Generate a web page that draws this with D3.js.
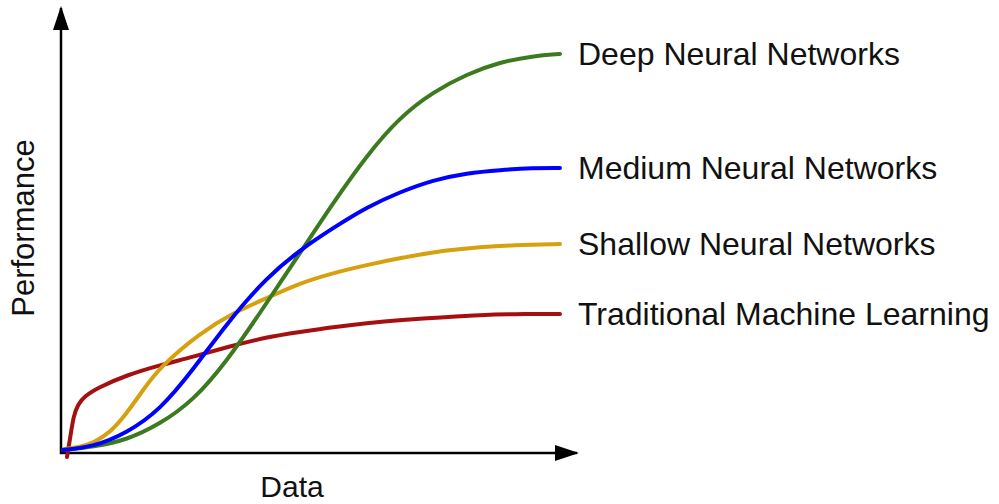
<!DOCTYPE html>
<html>
<head>
<meta charset="utf-8">
<script src="https://cdn.jsdelivr.net/npm/d3@7"></script>
<style>
  html, body { margin: 0; padding: 0; background: #fff; }
  text { font-family: "Liberation Sans", Arial, sans-serif; fill: #111; }
</style>
</head>
<body>
<svg id="chart" width="999" height="504"></svg>
<script>
// ---- data (x: amount of data 0-100, y: performance 0-100) ----
const seriesNames = ["Deep Neural Networks", "Medium Neural Networks", "Shallow Neural Networks", "Traditional Machine Learning"];
const seriesColors = ["#3b7a1e", "#0000ff", "#d6a00e", "#a50f0f"];

const deepX = [0.2, 6.2, 13, 19.6, 26.2, 33, 39.6, 47.6, 54.2, 61, 67.6, 74.2, 81, 87.6, 94.2, 99.6];
const deepY = [0.5, 1.25, 3, 7, 12.75, 22.75, 34.75, 49.75, 62.25, 74.25, 83.75, 90, 94.5, 97.5, 99, 99.5];

const mediumX = [0.2, 6.2, 13, 19.6, 26.2, 33, 41, 47.6, 54.2, 61, 67.6, 74.2, 81, 87.6, 94.2, 99.6];
const mediumY = [0.5, 1.25, 4.75, 10.5, 20.5, 32.25, 43.75, 50.5, 56, 61.25, 65, 68, 69.75, 70.5, 71, 71];

const shallowX = [0.4, 3.6, 6.2, 9.6, 13, 16.2, 19.6, 27.6, 34.2, 41, 47.6, 54.2, 61, 67.6, 77, 83.6, 90.2, 99.6];
const shallowY = [0.75, 1.25, 2.25, 4.75, 9.75, 15.5, 21.25, 29.75, 34.75, 38.5, 42.25, 44.75, 46.75, 48.5, 50.5, 51.25, 51.75, 52];

const tradX = [1, 1.7, 2.3, 3.2, 4.6, 7, 13, 19.6, 26.2, 33, 41, 47.6, 54.2, 61, 67.6, 77, 83.6, 90.2, 99.6];
const tradY = [-1.25, 4, 9, 12, 14, 16, 19.25, 21.75, 23.75, 26.25, 28.75, 30, 31.25, 32.25, 33, 33.75, 34.25, 34.5, 34.5];

const axisLabelX = "Data";
const axisLabelY = "Performance";

// ---- build ----
const series = [
  { name: seriesNames[0], color: seriesColors[0], xs: deepX, ys: deepY },
  { name: seriesNames[1], color: seriesColors[1], xs: mediumX, ys: mediumY },
  { name: seriesNames[2], color: seriesColors[2], xs: shallowX, ys: shallowY },
  { name: seriesNames[3], color: seriesColors[3], xs: tradX, ys: tradY }
].map(s => ({ ...s, pts: s.xs.map((x, i) => [x, s.ys[i]]) }));

const svg = d3.select("#chart");
const x = d3.scaleLinear().domain([0, 100]).range([62, 562]);
const y = d3.scaleLinear().domain([0, 100]).range([452, 52]);

const defs = svg.append("defs");
defs.append("marker")
  .attr("id", "arrow")
  .attr("viewBox", "0 0 24 16")
  .attr("refX", 22).attr("refY", 8)
  .attr("markerUnits", "userSpaceOnUse")
  .attr("markerWidth", 24).attr("markerHeight", 16)
  .attr("orient", "auto")
  .append("path")
  .attr("d", "M0,0 L24,8 L0,16 Z")
  .attr("fill", "#000");

const ox = x(0) - 1, oy = y(0) + 1;

// y axis
svg.append("line")
  .attr("x1", ox).attr("y1", oy + 1)
  .attr("x2", ox).attr("y2", y(111))
  .attr("stroke", "#000").attr("stroke-width", 2.5)
  .attr("marker-end", "url(#arrow)");
// x axis
svg.append("line")
  .attr("x1", ox - 1).attr("y1", oy)
  .attr("x2", x(103)).attr("y2", oy)
  .attr("stroke", "#000").attr("stroke-width", 2.5)
  .attr("marker-end", "url(#arrow)");

const line = d3.line()
  .x(d => x(d[0])).y(d => y(d[1]))
  .curve(d3.curveBasis);

// draw order: red, yellow, green, blue
const order = [3, 2, 0, 1];
order.forEach(i => {
  const s = series[i];
  svg.append("path")
    .attr("d", line(s.pts))
    .attr("fill", "none")
    .attr("stroke", s.color)
    .attr("stroke-width", 4)
    .attr("stroke-linecap", "round")
    .attr("stroke-linejoin", "round");
});

// labels at the end of each curve
series.forEach(s => {
  const last = s.pts[s.pts.length - 1];
  svg.append("text")
    .attr("x", 578)
    .attr("y", y(last[1]))
    .attr("dy", "0.34em")
    .attr("font-size", 32)
    .text(s.name);
});

// axis titles
svg.append("text")
  .attr("x", 292).attr("y", 497)
  .attr("text-anchor", "middle")
  .attr("font-size", 30)
  .text(axisLabelX);

svg.append("text")
  .attr("transform", "translate(34,228) rotate(-90)")
  .attr("text-anchor", "middle")
  .attr("font-size", 31)
  .text(axisLabelY);
</script>
</body>
</html>
